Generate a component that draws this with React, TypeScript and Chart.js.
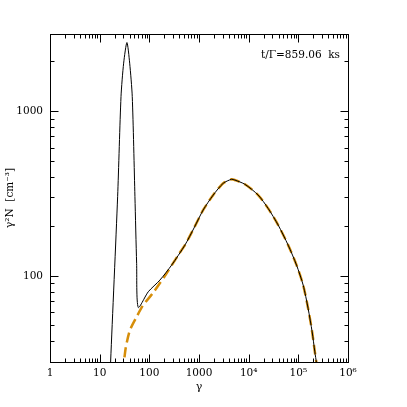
import React, { useEffect, useRef } from 'react';
import { Chart, registerables } from 'chart.js';

Chart.register(...registerables);

// Solid black curve: total electron spectrum (gamma, gamma^2 N)
const blackGamma = [16.0, 16.6, 23.0, 26.9, 30.4, 35.4, 40.2, 45.3, 51.3, 55.5, 59.8, 95.1, 163.3, 281, 520, 794, 1216, 1932, 3069, 4519, 5272, 8395, 15520, 24660, 39260, 62370, 92040, 125000, 157400, 189700, 214800, 232300, 240000];
const blackN = [22, 30, 302, 1222, 1950, 2600, 1950, 1222, 302, 119, 64.3, 80.0, 94.2, 116.1, 153.5, 195, 251, 309, 364, 385, 381, 359, 309, 256.4, 203.2, 153.5, 116.1, 87.9, 63.4, 45.7, 34.6, 29.4, 26];

// Dashed orange curve
const orangeGamma = [29.5, 30.8, 33.8, 40.7, 55.5, 75.3, 120, 222.8, 382, 520, 794, 1216, 1932, 3069, 4519, 5272, 8395, 15520, 24660, 39260, 62370, 92040, 125000, 157400, 189700, 214800, 232300, 240000];
const orangeN = [26, 29.9, 37.1, 46.8, 56.4, 66.4, 79.1, 103.5, 133.7, 153.5, 195, 251, 309, 364, 385, 381, 359, 309, 256.4, 203.2, 153.5, 116.1, 87.9, 63.4, 45.7, 34.6, 29.4, 26];

const xMajorTicks = [1, 10, 100, 1000, 1e4, 1e5, 1e6];
const xTickLabels = ['1', '10', '100', '1000', '10\u2074', '10\u2075', '10\u2076'];
const yMajorTicks = [100, 1000];
const yTickLabels = ['100', '1000'];

const xRange = [1, 1e6];
const yRange = [30, 2930];

const annotationText = 't/\u0393=859.06  ks';
const xTitle = '\u03b3';
const yTitle = '\u03b3\u00b2N  [cm\u207b\u00b3]';

const FONT = "'DejaVu Serif', serif";

function minorTicks(lo: number, hi: number): number[] {
  const out: number[] = [];
  const d0 = Math.floor(Math.log10(lo));
  const d1 = Math.ceil(Math.log10(hi));
  for (let d = d0; d <= d1; d++) {
    for (let k = 2; k <= 9; k++) {
      const v = k * Math.pow(10, d);
      if (v > lo && v < hi) out.push(v);
    }
  }
  return out;
}

const framePlugin = {
  id: 'frameTicks',
  afterDatasetsDraw(chart: any) {
    const { ctx, chartArea: a, scales } = chart;
    const xs = scales.x;
    const ys = scales.y;
    const L = Math.round(a.left) + 0.5;
    const R = Math.round(a.right) + 0.5;
    const T = Math.round(a.top) + 0.5;
    const B = Math.round(a.bottom) + 0.5;
    ctx.save();
    ctx.strokeStyle = '#000';
    ctx.lineWidth = 1;
    ctx.strokeRect(L, T, R - L, B - T);
    ctx.beginPath();
    const xt = [
      ...xMajorTicks.map((v) => [v, 8]),
      ...minorTicks(xRange[0], xRange[1]).map((v) => [v, 4]),
    ];
    for (const [v, len] of xt) {
      const p = Math.round(xs.getPixelForValue(v)) + 0.5;
      ctx.moveTo(p, B);
      ctx.lineTo(p, B - len);
      ctx.moveTo(p, T);
      ctx.lineTo(p, T + len);
    }
    const yt = [
      ...yMajorTicks.map((v) => [v, 8]),
      ...minorTicks(yRange[0] - 1, yRange[1]).map((v) => [v, 4]),
    ];
    for (const [v, len] of yt) {
      if (v < yRange[0] || v > yRange[1]) continue;
      const p = Math.round(ys.getPixelForValue(v)) + 0.5;
      ctx.moveTo(L, p);
      ctx.lineTo(L + len, p);
      ctx.moveTo(R, p);
      ctx.lineTo(R - len, p);
    }
    ctx.stroke();
    ctx.fillStyle = '#000';
    ctx.font = `10.5px ${FONT}`;
    ctx.textAlign = 'right';
    ctx.textBaseline = 'middle';
    ctx.fillText(annotationText, a.right - 8, a.top + 21);
    ctx.restore();
  },
};

export default function App() {
  const ref = useRef<HTMLCanvasElement | null>(null);
  useEffect(() => {
    if (!ref.current) return;
    const chart = new Chart(ref.current, {
      type: 'scatter',
      data: {
        datasets: [
          {
            data: blackGamma.map((g, i) => ({ x: g, y: blackN[i] })),
            showLine: true,
            borderColor: '#000000',
            borderWidth: 1,
            pointRadius: 0,
            tension: 0.25,
            clip: 0,
          },
          {
            data: orangeGamma.map((g, i) => ({ x: g, y: orangeN[i] })),
            showLine: true,
            borderColor: 'rgb(214,142,10)',
            borderWidth: 2.5,
            borderDash: [10, 5],
            borderCapStyle: 'butt',
            pointRadius: 0,
            tension: 0.25,
            clip: 0,
          },
        ],
      },
      options: {
        responsive: false,
        animation: false,
        devicePixelRatio: 1,
        layout: { padding: { top: 34, right: 59, left: 0, bottom: 0 } },
        plugins: {
          legend: { display: false },
          tooltip: { enabled: false },
          title: { display: false },
        },
        scales: {
          x: {
            type: 'logarithmic',
            min: xRange[0],
            max: xRange[1],
            grid: { display: false, drawTicks: false },
            border: { display: false },
            afterBuildTicks: (s: any) => {
              s.ticks = xMajorTicks.map((v) => ({ value: v }));
            },
            afterFit: (s: any) => {
              s.height = 45;
            },
            ticks: {
              autoSkip: false,
              maxRotation: 0,
              padding: 5,
              color: '#000',
              font: { family: FONT, size: 10.5 },
              callback: (_v: any, i: number) => xTickLabels[i],
            },
            title: {
              display: true,
              text: xTitle,
              color: '#000',
              font: { family: FONT, size: 11 },
              padding: { top: 0, bottom: 13.5 },
            },
          },
          y: {
            type: 'logarithmic',
            min: yRange[0],
            max: yRange[1],
            grid: { display: false, drawTicks: false },
            border: { display: false },
            afterBuildTicks: (s: any) => {
              s.ticks = yMajorTicks.map((v) => ({ value: v }));
            },
            afterFit: (s: any) => {
              s.width = 50;
            },
            ticks: {
              autoSkip: false,
              padding: 7,
              color: '#000',
              font: { family: FONT, size: 10.5 },
              callback: (_v: any, i: number) => yTickLabels[i],
            },
            title: {
              display: true,
              text: yTitle,
              color: '#000',
              font: { family: FONT, size: 10.5 },
              padding: { top: 3.7, bottom: 0 },
            },
          },
        },
      },
      plugins: [framePlugin],
    });
    return () => chart.destroy();
  }, []);
  return (
    <div style={{ position: 'fixed', left: 0, top: 0, width: 407, height: 407, background: '#fff' }}>
      <canvas ref={ref} width={407} height={407} />
    </div>
  );
}
